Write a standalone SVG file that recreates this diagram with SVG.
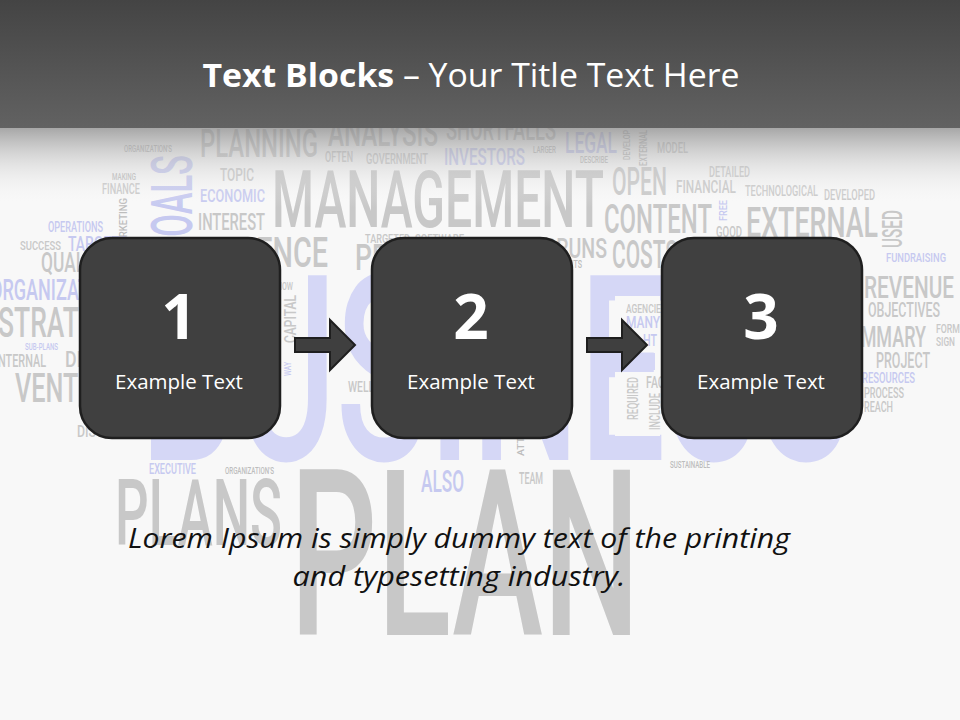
<svg xmlns="http://www.w3.org/2000/svg" width="960" height="720" viewBox="0 0 960 720">
<defs>
<linearGradient id="hdr" x1="0" y1="0" x2="0" y2="1">
<stop offset="0" stop-color="#444444"/>
<stop offset="1" stop-color="#626262"/>
</linearGradient>
<linearGradient id="fade" x1="0" y1="0" x2="0" y2="1">
<stop offset="0" stop-color="#8c8c8c" stop-opacity="0.75"/>
<stop offset="0.45" stop-color="#c8c8c8" stop-opacity="0.45"/>
<stop offset="1" stop-color="#ffffff" stop-opacity="0"/>
</linearGradient>
<style>
.w{font-family:Roboto,"Liberation Sans",sans-serif;font-weight:500;}
.g{fill:#c8c8c8;}
.s{fill:#bdbdbd;}
.b{fill:#c6c9f0;}
.bb{fill:#d5d7f6;}
.node{fill:#404040;stroke:#1f1f1f;stroke-width:2.5;}
.num{font-family:"Open Sans","Liberation Sans",sans-serif;font-weight:bold;font-size:62px;fill:#ffffff;text-anchor:middle;}
.lbl{font-family:"Open Sans","Liberation Sans",sans-serif;font-size:20.5px;fill:#ffffff;text-anchor:middle;}
.arr{fill:#3f3f3f;stroke:#1f1f1f;stroke-width:2;stroke-linejoin:miter;}
</style>
</defs>
<rect width="960" height="720" fill="#f8f8f8"/>
<g id="wordcloud" class="w">
<text class="bb" x="140" y="460" font-size="260" textLength="710" lengthAdjust="spacingAndGlyphs">BUSINESS</text>
<text class="g" x="290" y="635" font-size="232" textLength="350" lengthAdjust="spacingAndGlyphs">PLAN</text>
<text class="g" x="115" y="545" font-size="92" textLength="167" lengthAdjust="spacingAndGlyphs">PLANS</text>
<text class="g" x="272" y="227" font-size="80" textLength="332" lengthAdjust="spacingAndGlyphs">MANAGEMENT</text>
<text class="s" x="124" y="152" font-size="9" textLength="48" lengthAdjust="spacingAndGlyphs">ORGANIZATION'S</text>
<text class="g" x="200" y="157" font-size="38" textLength="118" lengthAdjust="spacingAndGlyphs">PLANNING</text>
<text class="g" x="328" y="146" font-size="38" textLength="110" lengthAdjust="spacingAndGlyphs">ANALYSIS</text>
<text class="g" x="446" y="140" font-size="32" textLength="110" lengthAdjust="spacingAndGlyphs">SHORTFALLS</text>
<text class="b" x="565" y="153" font-size="30" textLength="52" lengthAdjust="spacingAndGlyphs">LEGAL</text>
<text class="s" x="533" y="153" font-size="9" textLength="23" lengthAdjust="spacingAndGlyphs">LARGER</text>
<text class="s" x="580" y="163" font-size="9" textLength="28" lengthAdjust="spacingAndGlyphs">DESCRIBE</text>
<text class="s" transform="translate(630,160) rotate(-90)" font-size="9" textLength="30" lengthAdjust="spacingAndGlyphs">DEVELOP</text>
<text class="s" transform="translate(647,166) rotate(-90)" font-size="10" textLength="36" lengthAdjust="spacingAndGlyphs">EXTERNAL</text>
<text class="g" x="657" y="153" font-size="14" textLength="31" lengthAdjust="spacingAndGlyphs">MODEL</text>
<text class="g" x="325" y="162" font-size="14" textLength="28" lengthAdjust="spacingAndGlyphs">OFTEN</text>
<text class="g" x="366" y="164" font-size="14" textLength="62" lengthAdjust="spacingAndGlyphs">GOVERNMENT</text>
<text class="b" x="444" y="165" font-size="23" textLength="81" lengthAdjust="spacingAndGlyphs">INVESTORS</text>
<text class="s" x="112" y="180" font-size="9" textLength="24" lengthAdjust="spacingAndGlyphs">MAKING</text>
<text class="g" x="102" y="194" font-size="14" textLength="38" lengthAdjust="spacingAndGlyphs">FINANCE</text>
<text class="b" transform="translate(192,259) rotate(-90)" font-size="58" textLength="104" lengthAdjust="spacingAndGlyphs">GOALS</text>
<text class="g" x="220" y="181" font-size="18" textLength="34" lengthAdjust="spacingAndGlyphs">TOPIC</text>
<text class="b" x="200" y="202" font-size="19" textLength="65" lengthAdjust="spacingAndGlyphs">ECONOMIC</text>
<text class="g" x="198" y="230" font-size="24" textLength="67" lengthAdjust="spacingAndGlyphs">INTEREST</text>
<text class="s" transform="translate(127,252) rotate(-90)" font-size="11" textLength="54" lengthAdjust="spacingAndGlyphs">MARKETING</text>
<text class="b" x="48" y="232" font-size="14" textLength="55" lengthAdjust="spacingAndGlyphs">OPERATIONS</text>
<text class="g" x="20" y="250" font-size="13" textLength="41" lengthAdjust="spacingAndGlyphs">SUCCESS</text>
<text class="b" x="68" y="251" font-size="20" textLength="60" lengthAdjust="spacingAndGlyphs">TARGETS</text>
<text class="g" x="41" y="272" font-size="27" textLength="70" lengthAdjust="spacingAndGlyphs">QUALITY</text>
<text class="b" x="-10" y="300" font-size="30" textLength="140" lengthAdjust="spacingAndGlyphs">ORGANIZATIONS</text>
<text class="g" x="-2" y="337" font-size="42" textLength="130" lengthAdjust="spacingAndGlyphs">STRATEGY</text>
<text class="b" x="25" y="350" font-size="9" textLength="33" lengthAdjust="spacingAndGlyphs">SUB-PLANS</text>
<text class="g" x="-5" y="367" font-size="18" textLength="51" lengthAdjust="spacingAndGlyphs">INTERNAL</text>
<text class="g" x="65" y="367" font-size="22" textLength="90" lengthAdjust="spacingAndGlyphs">DIRECTION</text>
<text class="g" x="15" y="402" font-size="40" textLength="110" lengthAdjust="spacingAndGlyphs">VENTURE</text>
<text class="g" x="77" y="437" font-size="16" textLength="50" lengthAdjust="spacingAndGlyphs">DISCUSS</text>
<text class="b" x="149" y="474" font-size="14" textLength="47" lengthAdjust="spacingAndGlyphs">EXECUTIVE</text>
<text class="s" x="225" y="474" font-size="9" textLength="49" lengthAdjust="spacingAndGlyphs">ORGANIZATION'S</text>
<text class="g" x="178" y="267" font-size="42" textLength="150" lengthAdjust="spacingAndGlyphs">INFLUENCE</text>
<text class="g" x="277" y="290" font-size="11" textLength="16" lengthAdjust="spacingAndGlyphs">HOW</text>
<text class="g" transform="translate(296,343) rotate(-90)" font-size="17" textLength="48" lengthAdjust="spacingAndGlyphs">CAPITAL</text>
<text class="b" transform="translate(291,376) rotate(-90)" font-size="9" textLength="14" lengthAdjust="spacingAndGlyphs">WAY</text>
<text class="g" x="348" y="392" font-size="14" textLength="26" lengthAdjust="spacingAndGlyphs">WELL</text>
<text class="g" x="365" y="243" font-size="12" textLength="45" lengthAdjust="spacingAndGlyphs">TARGETED</text>
<text class="g" x="415" y="243" font-size="12" textLength="49" lengthAdjust="spacingAndGlyphs">SOFTWARE</text>
<text class="g" x="355" y="270" font-size="36" textLength="90" lengthAdjust="spacingAndGlyphs">PROFIT</text>
<text class="g" x="507" y="258" font-size="28" textLength="100" lengthAdjust="spacingAndGlyphs">OVERRUNS</text>
<text class="s" x="530" y="268" font-size="10" textLength="52" lengthAdjust="spacingAndGlyphs">REQUIREMENTS</text>
<text class="s" transform="translate(524,456) rotate(-90)" font-size="9" textLength="48" lengthAdjust="spacingAndGlyphs">ATTITUDE</text>
<text class="g" x="612" y="195" font-size="38" textLength="55" lengthAdjust="spacingAndGlyphs">OPEN</text>
<text class="g" x="604" y="233" font-size="40" textLength="108" lengthAdjust="spacingAndGlyphs">CONTENT</text>
<text class="g" x="612" y="268" font-size="38" textLength="66" lengthAdjust="spacingAndGlyphs">COSTS</text>
<text class="g" x="709" y="177" font-size="14" textLength="41" lengthAdjust="spacingAndGlyphs">DETAILED</text>
<text class="g" x="676" y="193" font-size="19" textLength="60" lengthAdjust="spacingAndGlyphs">FINANCIAL</text>
<text class="g" x="745" y="196" font-size="14" textLength="73" lengthAdjust="spacingAndGlyphs">TECHNOLOGICAL</text>
<text class="g" x="824" y="200" font-size="14" textLength="51" lengthAdjust="spacingAndGlyphs">DEVELOPED</text>
<text class="b" transform="translate(727,221) rotate(-90)" font-size="11" textLength="21" lengthAdjust="spacingAndGlyphs">FREE</text>
<text class="g" x="716" y="237" font-size="14" textLength="26" lengthAdjust="spacingAndGlyphs">GOOD</text>
<text class="g" x="746" y="237" font-size="42" textLength="132" lengthAdjust="spacingAndGlyphs">EXTERNAL</text>
<text class="g" transform="translate(902,248) rotate(-90)" font-size="27" textLength="38" lengthAdjust="spacingAndGlyphs">USED</text>
<text class="b" x="886" y="262" font-size="13" textLength="60" lengthAdjust="spacingAndGlyphs">FUNDRAISING</text>
<text class="g" x="864" y="298" font-size="32" textLength="90" lengthAdjust="spacingAndGlyphs">REVENUE</text>
<text class="g" x="868" y="317" font-size="20" textLength="72" lengthAdjust="spacingAndGlyphs">OBJECTIVES</text>
<text class="g" x="838" y="347" font-size="30" textLength="88" lengthAdjust="spacingAndGlyphs">SUMMARY</text>
<text class="g" x="936" y="333" font-size="13" textLength="24" lengthAdjust="spacingAndGlyphs">FORM</text>
<text class="g" x="936" y="346" font-size="13" textLength="19" lengthAdjust="spacingAndGlyphs">SIGN</text>
<text class="g" x="876" y="368" font-size="22" textLength="54" lengthAdjust="spacingAndGlyphs">PROJECT</text>
<text class="b" x="862" y="383" font-size="14" textLength="53" lengthAdjust="spacingAndGlyphs">RESOURCES</text>
<text class="g" x="864" y="398" font-size="14" textLength="40" lengthAdjust="spacingAndGlyphs">PROCESS</text>
<text class="g" x="864" y="412" font-size="14" textLength="29" lengthAdjust="spacingAndGlyphs">REACH</text>
<text class="s" x="670" y="468" font-size="9" textLength="40" lengthAdjust="spacingAndGlyphs">SUSTAINABLE</text>
<rect x="615" y="296" width="45" height="56" fill="#f8f8f8"/>
<text class="g" x="626" y="313" font-size="13" textLength="40" lengthAdjust="spacingAndGlyphs">AGENCIES</text>
<text class="b" x="626" y="328" font-size="16" textLength="34" lengthAdjust="spacingAndGlyphs">MANY</text>
<text class="b" x="643" y="346" font-size="16" textLength="14" lengthAdjust="spacingAndGlyphs">HT</text>
<rect x="615" y="353" width="40" height="17" fill="#d5d7f6"/>
<rect x="615" y="372" width="45" height="64" fill="#f8f8f8"/>
<text class="g" transform="translate(638,420) rotate(-90)" font-size="14" textLength="43" lengthAdjust="spacingAndGlyphs">REQUIRED</text>
<text class="g" transform="translate(660,430) rotate(-90)" font-size="14" textLength="37" lengthAdjust="spacingAndGlyphs">INCLUDE</text>
<text class="g" x="646" y="388" font-size="16" textLength="45" lengthAdjust="spacingAndGlyphs">FACTORS</text>
<text class="b" x="421" y="492" font-size="31" textLength="43" lengthAdjust="spacingAndGlyphs">ALSO</text>
<text class="g" x="519" y="484" font-size="16" textLength="24" lengthAdjust="spacingAndGlyphs">TEAM</text>
</g>
<g id="header">
<rect x="0" y="0" width="960" height="128" fill="url(#hdr)"/>
<rect x="0" y="128" width="960" height="80" fill="url(#fade)"/>
<text x="471" y="87" font-family="'Open Sans','Liberation Sans',sans-serif" font-size="32" fill="#ffffff" text-anchor="middle" textLength="537" lengthAdjust="spacingAndGlyphs"><tspan font-weight="bold">Text Blocks</tspan> – Your Title Text Here</text>
</g>
<g id="connectors">
<path class="arr" d="M295,338 L330,338 L330,320 L355,345 L330,370 L330,352 L295,352 Z"/>
<path class="arr" d="M587,338 L622,338 L622,320 L647,345 L622,370 L622,352 L587,352 Z"/>
</g>
<g id="node1">
<rect class="node" x="80" y="238" width="200" height="200" rx="32" ry="32"/>
<text class="num" x="179" y="339">1</text>
<text class="lbl" x="179" y="389">Example Text</text>
</g>
<g id="node2">
<rect class="node" x="372" y="238" width="200" height="200" rx="32" ry="32"/>
<text class="num" x="471" y="339">2</text>
<text class="lbl" x="471" y="389">Example Text</text>
</g>
<g id="node3">
<rect class="node" x="662" y="238" width="200" height="200" rx="32" ry="32"/>
<text class="num" x="761" y="339">3</text>
<text class="lbl" x="761" y="389">Example Text</text>
</g>
<g id="caption" font-family="'Open Sans','Liberation Sans',sans-serif" font-style="italic" font-size="28" fill="#111111" text-anchor="middle">
<text x="459" y="548" textLength="662" lengthAdjust="spacingAndGlyphs">Lorem Ipsum is simply dummy text of the printing</text>
<text x="459" y="586" textLength="333" lengthAdjust="spacingAndGlyphs">and typesetting industry.</text>
</g>
</svg>
